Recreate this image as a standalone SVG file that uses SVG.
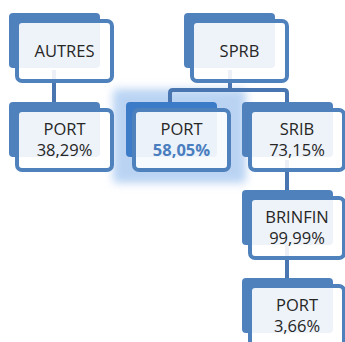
<svg xmlns="http://www.w3.org/2000/svg" width="345" height="342" viewBox="0 0 345 342">
<defs>
<filter id="glow" x="-30%" y="-30%" width="160%" height="160%">
<feGaussianBlur stdDeviation="4"/>
</filter>
<style>
.back{fill:#4f81bd}
.front{fill:#ffffff;fill-opacity:0.9;stroke:#4f81bd;stroke-width:4}
.conn{fill:none;stroke:#4976b1;stroke-width:4;stroke-linejoin:round}
text{font-family:"Open Sans","Noto Sans","Liberation Sans",sans-serif;font-size:16.5px;fill:#262626;text-anchor:middle}
.hl{fill:#4a7ebf;font-weight:bold}
</style>
</defs>
<rect width="345" height="342" fill="#ffffff"/>
<g id="glow-hl">
<rect x="113" y="89" width="133" height="94" rx="4" fill="#a9c9f1" opacity="0.8" filter="url(#glow)"/>
</g>
<g id="connectors">
<path class="conn" d="M54,70 V104"/>
<path class="conn" d="M230,70 V90 M170,104 V93 Q170,90 173,90 H284 Q287,90 287,93 V104"/>
<path class="conn" d="M287,160 V192"/>
<path class="conn" d="M287,245 V280"/>
</g>
<g id="n-autres">
<rect class="back" x="9" y="13" width="91" height="55" rx="4"/>
<rect class="front" x="17" y="21" width="95" height="60" rx="5"/>
<text x="64.5" y="57">AUTRES</text>
</g>
<g id="n-sprb">
<rect class="back" x="184" y="13" width="91" height="55" rx="4"/>
<rect class="front" x="192" y="21" width="95" height="60" rx="5"/>
<text x="239.5" y="57">SPRB</text>
</g>
<g id="n-port1">
<rect class="back" x="9" y="102" width="91" height="55" rx="4"/>
<rect class="front" x="17" y="110" width="95" height="60" rx="5"/>
<text x="64.5" y="135">PORT</text>
<text x="64.5" y="156">38,29%</text>
</g>
<g id="n-port2">
<rect class="back" x="126" y="102" width="91" height="55" rx="4" style="fill:#3c7bc8"/>
<rect class="front" x="134" y="110" width="95" height="60" rx="5"/>
<text x="181.5" y="135">PORT</text>
<text class="hl" x="181.5" y="156">58,05%</text>
</g>
<g id="n-srib">
<rect class="back" x="242" y="102" width="91" height="55" rx="4"/>
<rect class="front" x="250" y="110" width="94" height="60" rx="5"/>
<text x="297" y="135">SRIB</text>
<text x="297" y="156">73,15%</text>
</g>
<g id="n-brinfin">
<rect class="back" x="242" y="190" width="91" height="55" rx="4"/>
<rect class="front" x="250" y="198" width="94" height="60" rx="5"/>
<text x="297" y="223">BRINFIN</text>
<text x="297" y="244">99,99%</text>
</g>
<g id="n-port3">
<rect class="back" x="242" y="278" width="91" height="55" rx="4"/>
<rect class="front" x="250" y="286" width="94" height="60" rx="5"/>
<text x="297" y="311">PORT</text>
<text x="297" y="332">3,66%</text>
</g>
</svg>
